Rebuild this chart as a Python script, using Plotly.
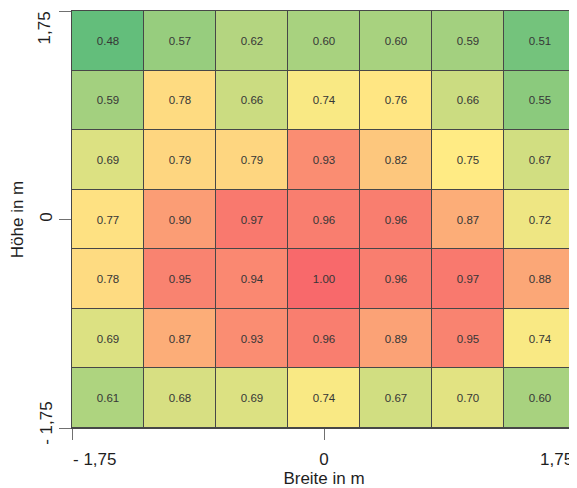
import plotly.graph_objects as go

x_centers = [-1.5, -1.0, -0.5, 0.0, 0.5, 1.0, 1.5]
y_centers = [1.5, 1.0, 0.5, 0.0, -0.5, -1.0, -1.5]
values = [
    [0.48, 0.57, 0.62, 0.60, 0.60, 0.59, 0.51],
    [0.59, 0.78, 0.66, 0.74, 0.76, 0.66, 0.55],
    [0.69, 0.79, 0.79, 0.93, 0.82, 0.75, 0.67],
    [0.77, 0.90, 0.97, 0.96, 0.96, 0.87, 0.72],
    [0.78, 0.95, 0.94, 1.00, 0.96, 0.97, 0.88],
    [0.69, 0.87, 0.93, 0.96, 0.89, 0.95, 0.74],
    [0.61, 0.68, 0.69, 0.74, 0.67, 0.70, 0.60],
]
tick_vals = [-1.75, 0, 1.75]
x_tick_text = ["- 1,75", "0", "1,75"]
y_tick_text = ["- 1,75", "0", "1,75"]

zmin, zmid, zmax = 0.48, 0.75, 1.00
m = (zmid - zmin) / (zmax - zmin)

fig = go.Figure(go.Heatmap(
    x=x_centers, y=y_centers, z=values,
    zmin=zmin, zmax=zmax,
    colorscale=[[0, "#63BE7B"], [m, "#FFEB84"], [1, "#F8696B"]],
    showscale=False, xgap=1, ygap=1,
    texttemplate="%{z:.2f}",
    textfont=dict(family="Liberation Sans, Arial", size=11.5, color="#363636"),
    hoverinfo="skip",
))

axis_font = dict(family="Liberation Sans, Arial", size=17, color="#1e1e1e")

# tick labels: the centre ones through the axis, the edge ones aligned inward
x_axis_text = ["", x_tick_text[1], ""]
y_axis_text = ["\u200b\u00a0" + y_tick_text[0], y_tick_text[1], ""]

annotations = [
    dict(x=tick_vals[0], xref="x", y=0, yref="paper", text=x_tick_text[0],
         xanchor="left", yanchor="middle", yshift=-31, xshift=-1,
         showarrow=False, font=axis_font),
    dict(x=tick_vals[2], xref="x", y=0, yref="paper", text=x_tick_text[2],
         xanchor="right", yanchor="middle", yshift=-31, xshift=-1,
         showarrow=False, font=axis_font),
    dict(x=0, xref="paper", y=tick_vals[2], yref="y", text=y_tick_text[2],
         xanchor="center", yanchor="top", xshift=-28, yshift=1, textangle=-90,
         showarrow=False, font=axis_font),
]

fig.update_layout(
    width=569, height=480,
    margin=dict(l=64, r=1, t=3, b=60, autoexpand=False),
    paper_bgcolor="white", plot_bgcolor="#474747",
    annotations=annotations,
    xaxis=dict(range=[-1.75, 1.75], tickvals=tick_vals, ticktext=x_axis_text,
               ticks="outside", ticklen=11, tickcolor="#707070", tickwidth=1,
               showgrid=False, zeroline=False, showline=True, linecolor="#474747",
               linewidth=1, mirror=True, tickfont=axis_font, automargin=False,
               ticklabelstandoff=5,
               title=dict(text="Breite in m", font=axis_font, standoff=6)),
    yaxis=dict(range=[-1.75, 1.75], tickvals=tick_vals, ticktext=y_axis_text,
               ticks="outside", ticklen=12, tickcolor="#707070", tickwidth=1,
               showgrid=False, zeroline=False, showline=True, linecolor="#474747",
               linewidth=1, mirror=True, tickfont=axis_font, tickangle=-90,
               automargin=False,
               title=dict(text="Höhe in m", font=axis_font, standoff=12)),
)
fig.write_html("out.html")
